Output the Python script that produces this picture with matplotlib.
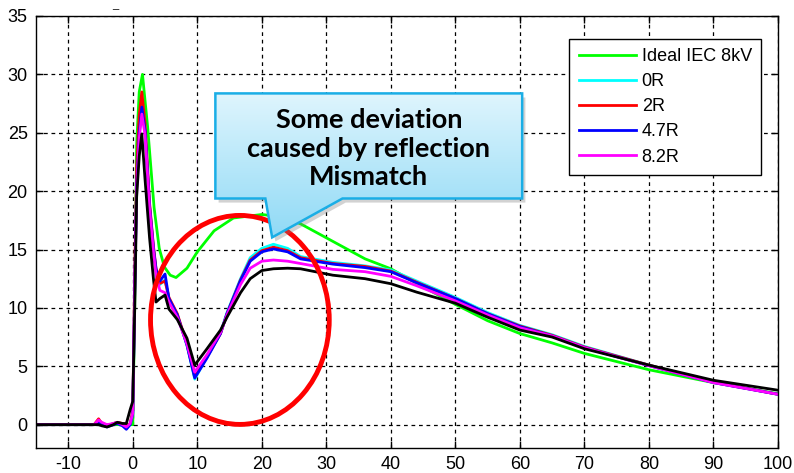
import numpy as np
import matplotlib.pyplot as plt
from matplotlib.patches import Ellipse, Polygon
from matplotlib.colors import LinearSegmentedColormap

plt.rcParams['font.family'] = ['Liberation Sans', 'DejaVu Sans']
plt.rcParams['axes.unicode_minus'] = False

# time axis (ns) shared by the measured curves
t = [-15, -6, -5.3, -4.8, -4, -3, -2.4, -1.6, -1, -0.4, 0, 0.3, 0.6, 1.0, 1.4, 1.9,
     2.6, 3.2, 3.6, 4.2, 5.0, 5.6, 6.9, 8.4, 9.6, 11.5, 13.6, 14.6, 16.7, 18.2, 20,
     21.8, 24, 26, 31, 36, 40, 44, 50, 55, 60, 65, 70, 80, 90, 100]

r0 = [0, 0, 0.3, 0.1, -0.1, 0.1, 0.2, 0, -0.2, 0.1, 1.0, 12, 21, 25.5, 27.8, 25.5,
      18.8, 15.2, 13.3, 12.0, 12.4, 10.8, 9.4, 6.8, 3.9, 5.8, 7.9, 9.6, 12.5, 14.3, 15.1,
      15.45, 15.1, 14.4, 13.9, 13.6, 13.25, 12.3, 10.9, 9.6, 8.5, 7.7, 6.7, 5.1, 3.65, 2.6]
r2 = [0, 0, 0.5, 0.1, -0.1, 0.1, 0.2, 0.1, -0.1, 0.1, 1.2, 13, 22, 26.5, 28.5, 25.8,
      19.0, 15.3, 13.4, 12.1, 12.3, 10.9, 9.5, 6.9, 4.1, 5.8, 7.8, 9.5, 12.4, 14.1, 14.9,
      15.2, 14.9, 14.3, 13.8, 13.55, 13.15, 12.2, 10.8, 9.5, 8.45, 7.65, 6.65, 5.1, 3.65, 2.6]
r47 = [0, 0, 0.2, 0, -0.2, 0, 0.1, -0.1, -0.4, 0, 0.9, 11.5, 20.5, 25, 27.2, 25.2,
       18.7, 15.1, 13.3, 12.3, 12.9, 10.8, 9.4, 6.8, 4.0, 5.7, 7.8, 9.5, 12.35, 14.0, 14.8,
       15.05, 14.8, 14.2, 13.75, 13.45, 13.1, 12.15, 10.8, 9.5, 8.4, 7.6, 6.6, 5.05, 3.6, 2.6]
r82 = [0, 0, 0.4, 0.2, 0, 0.1, 0.2, 0, -0.2, 0.1, 1.0, 11.5, 20, 24.5, 26.6, 24.8,
       18.5, 14.8, 12.8, 11.5, 11.3, 10.5, 9.2, 6.9, 4.5, 6.0, 7.9, 9.4, 12.0, 13.4, 14.0,
       14.1, 14.0, 13.8, 13.3, 13.1, 12.7, 11.9, 10.6, 9.4, 8.3, 7.6, 6.6, 5.05, 3.6, 2.6]
r_blk = [0, 0, 0, -0.1, -0.2, 0, 0.2, 0.1, 0.1, 1.3, 2.0, 10, 19.5, 23, 24.9, 21,
         16, 12.5, 10.5, 10.8, 11.1, 9.9, 9.0, 7.4, 5.1, 6.5, 8.1, 9.2, 11.3, 12.5, 13.2,
         13.35, 13.4, 13.35, 12.8, 12.5, 12.07, 11.35, 10.4, 9.2, 8.1, 7.5, 6.5, 5.1, 3.8, 2.95]

# ideal IEC 61000-4-2 8 kV waveform
t_ideal = [-15, 0, 0.3, 0.6, 1.0, 1.5, 2.3, 3.3, 4.1, 4.9, 5.8, 6.7, 8.4, 10, 12.6,
           15.6, 20, 23, 26, 31, 36, 40, 44, 50, 55, 60, 65, 70, 80, 90, 100]
ideal = [0, 0, 10, 24, 28.5, 30, 25.5, 18.6, 15.1, 13.5, 12.8, 12.6, 13.4, 14.8, 16.6,
         17.7, 18.0, 17.8, 17.2, 15.7, 14.2, 13.35, 12.1, 10.3, 8.9, 7.8, 7.0, 6.1, 4.7, 3.6, 2.65]

fig = plt.figure(figsize=(7.94, 4.73), dpi=100)
ax = fig.add_axes([36/794, 1-448/473, 742/794, 432/473])

ax.plot(t_ideal, ideal, color='#00ff00', lw=2, label='Ideal IEC 8kV')
ax.plot(t, r0, color='#00ffff', lw=2, label='0R')
ax.plot(t, r2, color='#ff0000', lw=2, label='2R')
ax.plot(t, r47, color='#0000ff', lw=2, label='4.7R')
ax.plot(t, r82, color='#ff00ff', lw=2, label='8.2R')
ax.plot(t, r_blk, color='black', lw=2, label='_nolegend_')

ax.set_xticks(range(-10, 101, 10))
ax.set_yticks(range(0, 36, 5))
ax.grid(True, color='black', linestyle=(0, (3, 3)), lw=0.9)
ax.tick_params(direction='in', top=True, right=True, length=5, width=1,
               labelsize=13, pad=6)
for s in ax.spines.values():
    s.set_linewidth(1)

# red ellipse marking the reflection region
ax.add_patch(Ellipse((16.6, 8.97), 27.7, 17.9, fill=False, edgecolor='#ff0000',
                     lw=3.5, zorder=4))

# callout box with pointer
bx0, bx1, by0, by1 = 12.8, 60.35, 19.37, 28.37
verts = [(bx0, by1), (bx1, by1), (bx1, by0), (32.5, by0), (21.6, 16.04),
         (20.55, by0), (bx0, by0)]
shadow = Polygon([(x + 0.5, y - 0.35) for x, y in verts], closed=True,
                 facecolor='#808080', edgecolor='none', alpha=0.35, zorder=5)
ax.add_patch(shadow)
box = Polygon(verts, closed=True, facecolor='none', edgecolor='#1aaee6', lw=1.8, zorder=7)
ax.add_patch(box)
cmap = LinearSegmentedColormap.from_list('callout', ['#dff5fd', '#90daf6'])
grad = np.linspace(0, 1, 256).reshape(-1, 1)
im = ax.imshow(grad, extent=(bx0, bx1, 16.04, by1), aspect='auto', cmap=cmap,
               origin='upper', zorder=6)
im.set_clip_path(box)
ax.text(36.6, 23.65, 'Some deviation\ncaused by reflection\nMismatch', ha='center',
        va='center', fontsize=19.5, fontweight='bold', family=['Lato', 'DejaVu Sans'],
        linespacing=1.22, zorder=8)

ax.set_xlim(-15, 100)
ax.set_ylim(-2, 35)

leg = ax.legend(loc='upper right', bbox_to_anchor=(770/794, 1-30/473),
                bbox_transform=fig.transFigure, fancybox=False, edgecolor='black',
                framealpha=1, fontsize=13, handlelength=3.2, handletextpad=0.3,
                labelspacing=0.45, borderpad=0.5)
leg.get_frame().set_linewidth(1)
leg.set_zorder(9)

# fragment of a cropped title at the top edge
fig.text(112/794, 1-0.5/473, '_', fontsize=8, ha='left', va='top')

fig.savefig('out.png', dpi=100)
